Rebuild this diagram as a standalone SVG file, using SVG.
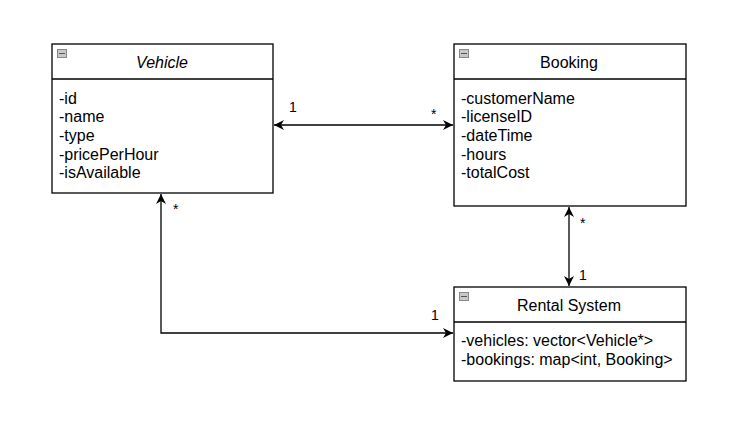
<svg xmlns="http://www.w3.org/2000/svg" width="737" height="432" viewBox="0 0 737 432">
<style>
.box{fill:#fff;stroke:#000;stroke-width:1.3}
.sep{stroke:#000;stroke-width:1.3}
.t{font-family:"Liberation Sans",Arial,sans-serif;font-size:16px;fill:#000}
.title{text-anchor:middle}
.c{fill:none;stroke:#000;stroke-width:1.3}
.lbl{font-family:"Liberation Sans",Arial,sans-serif;font-size:14px;fill:#000}
.ico{fill:#c8c8c8;stroke:#888;stroke-width:1}
</style>
<defs>
<marker id="arr" viewBox="0 0 10 10" refX="10" refY="5" markerWidth="10" markerHeight="10" markerUnits="userSpaceOnUse" orient="auto-start-reverse">
<path d="M0,0 L10,5 L0,10 L3,5 Z" fill="#000"/>
</marker>
</defs>
<rect width="737" height="432" fill="#fff"/>
<g id="connectors">
<line class="c" x1="274" y1="125" x2="453" y2="125" marker-start="url(#arr)" marker-end="url(#arr)"/>
<text class="lbl" x="289" y="112">1</text>
<text class="lbl" x="431" y="119">*</text>
<line class="c" x1="569" y1="207" x2="569" y2="286" marker-start="url(#arr)" marker-end="url(#arr)"/>
<text class="lbl" x="580" y="228">*</text>
<text class="lbl" x="579" y="280">1</text>
<polyline class="c" points="161,194 161,333 453,333" marker-start="url(#arr)" marker-end="url(#arr)"/>
<text class="lbl" x="173" y="214">*</text>
<text class="lbl" x="431" y="320">1</text>
</g>
<g id="vehicle">
<rect class="box" x="52" y="44" width="221" height="149"/>
<line class="sep" x1="52" y1="79" x2="273" y2="79"/>
<rect class="ico" x="57.5" y="49.5" width="9" height="8"/>
<line x1="59" y1="53.5" x2="65" y2="53.5" stroke="#555"/>
<text class="t title" x="162" y="68" font-style="italic">Vehicle</text>
<text class="t" x="59" y="104">-id</text>
<text class="t" x="59" y="122">-name</text>
<text class="t" x="59" y="141">-type</text>
<text class="t" x="59" y="160">-pricePerHour</text>
<text class="t" x="59" y="178">-isAvailable</text>
</g>
<g id="booking">
<rect class="box" x="454" y="44" width="232" height="162"/>
<line class="sep" x1="454" y1="79" x2="686" y2="79"/>
<rect class="ico" x="459.5" y="49.5" width="9" height="8"/>
<line x1="461" y1="53.5" x2="467" y2="53.5" stroke="#555"/>
<text class="t title" x="569" y="68">Booking</text>
<text class="t" x="461" y="104">-customerName</text>
<text class="t" x="461" y="122">-licenseID</text>
<text class="t" x="461" y="141">-dateTime</text>
<text class="t" x="461" y="160">-hours</text>
<text class="t" x="461" y="178">-totalCost</text>
</g>
<g id="rental">
<rect class="box" x="454" y="287" width="232" height="94"/>
<line class="sep" x1="454" y1="322" x2="686" y2="322"/>
<rect class="ico" x="459.5" y="292.5" width="9" height="8"/>
<line x1="461" y1="296.5" x2="467" y2="296.5" stroke="#555"/>
<text class="t title" x="569" y="311">Rental System</text>
<text class="t" x="461" y="346">-vehicles: vector&lt;Vehicle*&gt;</text>
<text class="t" x="461" y="365">-bookings: map&lt;int, Booking&gt;</text>
</g>
</svg>
